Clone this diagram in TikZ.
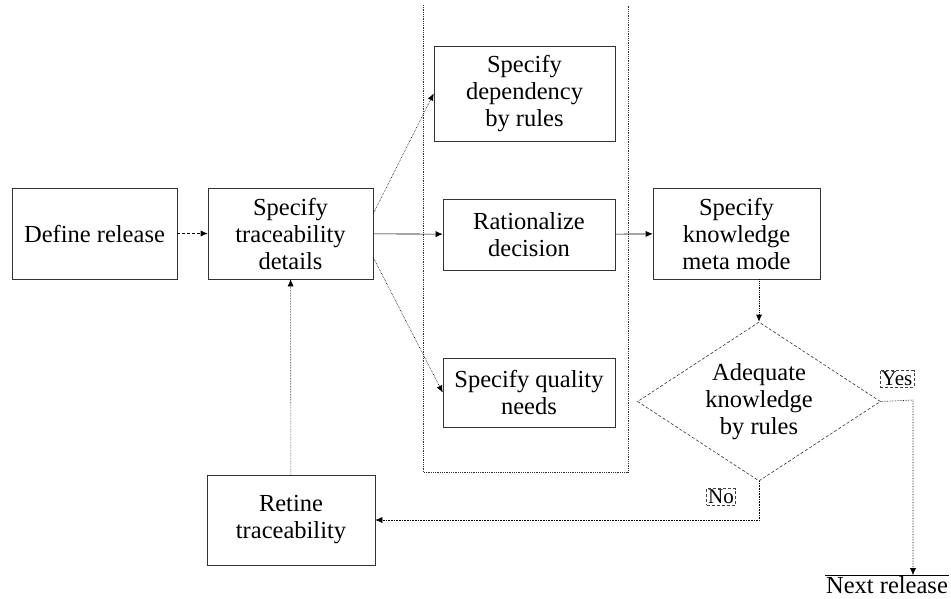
\documentclass[tikz,border=0pt]{standalone}
\usepackage{fontspec}
\setmainfont{Liberation Serif}
\usepackage{tikz}
\usetikzlibrary{shapes.geometric,arrows.meta}

\begin{document}
\begin{tikzpicture}[x=1pt,y=-1pt,>={Latex[length=7pt,width=6pt]},
    box/.style={draw=black!80,semithick,inner sep=0pt,align=center,
      font=\fontsize{24.5}{27}\selectfont},
    cond/.style={diamond,draw=black!80,densely dashed,semithick,inner sep=0pt,aspect=1.5,
      minimum width=243pt,minimum height=159pt,align=center,
      font=\fontsize{24.5}{27}\selectfont},
    tag/.style={draw=black!75,densely dashed,inner sep=1.5pt,
      font=\fontsize{21}{24}\selectfont},
    flow/.style={->,black,densely dotted,semithick}]
      \useasboundingbox (0,0) rectangle (951,598);

      % group frame
      \draw[black!80,densely dotted,thick] (423,5) -- (423,472) -- (628,472) -- (628,5);

      \node[box,minimum width=165pt,minimum height=91pt] (def) at (94.5,233.5) {Define release};
      \node[box,minimum width=165pt,minimum height=91pt] (trace) at (290.5,233.5) {Specify\\traceability\\details};
      \node[box,minimum width=181pt,minimum height=95pt] (dep) at (524.5,93.5) {Specify\\dependency\\by rules};
      \node[box,minimum width=172pt,minimum height=71pt] (rat) at (529,234.5) {Rationalize\\decision};
      \node[box,minimum width=172pt,minimum height=69pt] (qual) at (529,392.5) {Specify quality\\needs};
      \node[box,minimum width=167pt,minimum height=91pt] (know) at (736.5,233.5) {Specify\\knowledge\\meta mode};
      \node[cond] (dec) at (759,401.5) {Adequate\\knowledge\\by rules};
      \node[box,minimum width=168pt,minimum height=90pt] (ret) at (291,520) {Retine\\traceability};
      \node[font=\fontsize{24.5}{27}\selectfont,inner sep=1pt] (next) at (887,585) {Next release};
      \draw[black,semithick] (next.north west) -- (next.north east);

      \node[tag] (yes) at (897,379) {Yes};
      \node[tag] (no) at (721,497) {No};
      \coordinate (ycorner) at (913,400);
      \coordinate (ncorner) at (760,515);

      \draw[->,densely dashed,semithick] (def) -- (trace);
      \draw[flow] ([yshift=20pt]trace.east) -- (dep.west);
      \draw[->,semithick] (trace) -- (rat);
      \draw[flow] ([yshift=-24pt]trace.east) -- (qual.west);
      \draw[->,semithick] (rat) -- (know);
      \draw[flow,thick] (dec.north |- know.south) -- (dec.north);
      \draw[flow] (dec.east) -- (ycorner) -- (ycorner |- next.north);
      \draw[flow] (dec.south) |- (ret.east);
      \draw[flow] (ret) -- (trace);
    \end{tikzpicture}
\end{document}
